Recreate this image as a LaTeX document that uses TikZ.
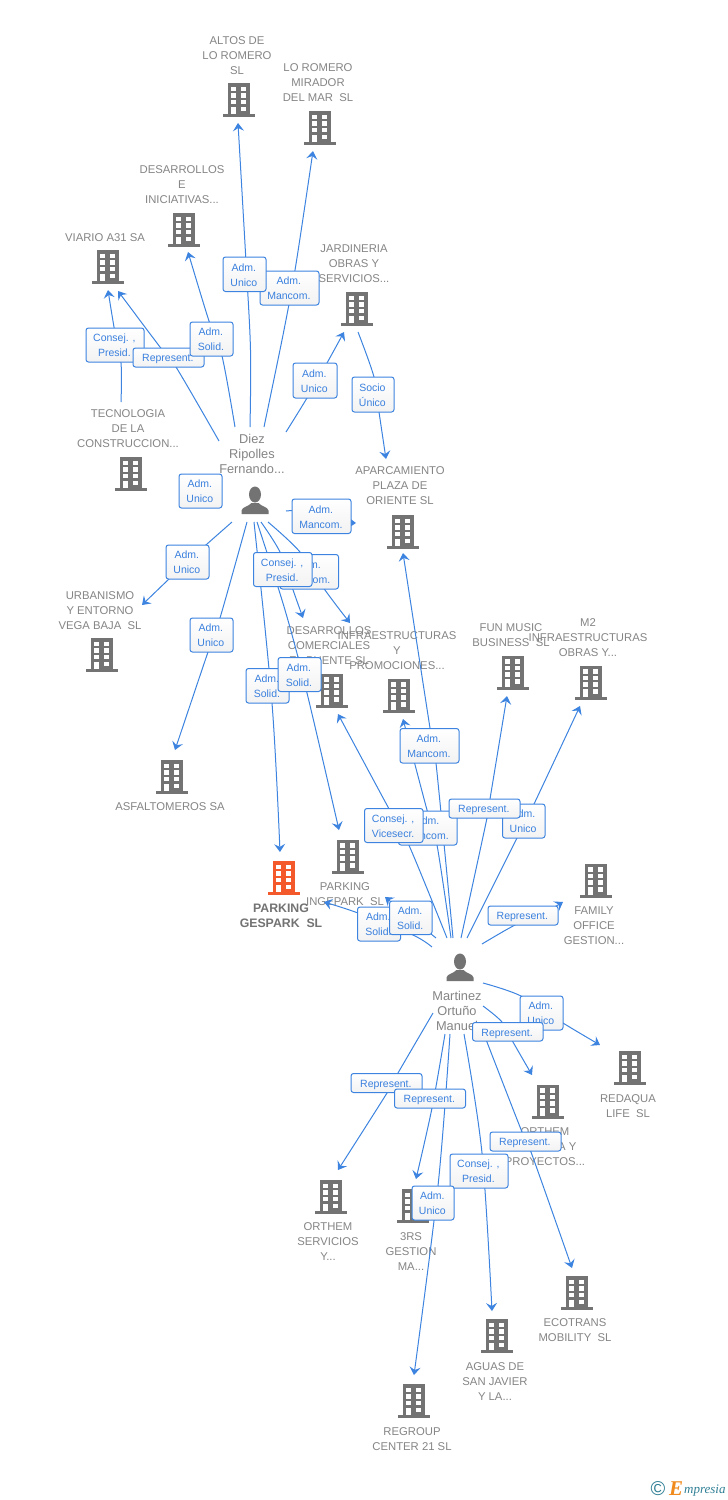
\documentclass[tikz,border=0pt]{standalone}
\usepackage{fontspec}
\setmainfont{Liberation Sans}
\newfontfamily\logofont{Liberation Serif}
\usetikzlibrary{arrows.meta}
\definecolor{linkblue}{HTML}{3D84E0}
\definecolor{labelblue}{HTML}{3A80DE}
\definecolor{icongray}{HTML}{737373}
\definecolor{textgray}{HTML}{858585}
\definecolor{mainorange}{HTML}{F4592B}
\definecolor{logoteal}{HTML}{2F7F95}
\definecolor{logoorange}{HTML}{F08A1D}
\tikzset{
  company/.style={text=textgray,inner sep=0pt,align=center,yshift=-1pt,font=\fontsize{11.3}{15}\selectfont},
  maincompany/.style={company,text=icongray,font=\bfseries\fontsize{12.3}{15}\selectfont},
  personname/.style={text=textgray,inner sep=0pt,align=center,yshift=-1pt,font=\fontsize{12.8}{15}\selectfont},
  iconbox/.style={inner sep=0pt,minimum width=32pt,minimum height=34pt},
  link/.style={draw=linkblue,line width=1pt,-{Stealth[length=8pt,width=11pt,inset=3pt]}},
  rolebox/.style={draw=linkblue,line width=1pt,rounded corners=2.5pt,top color=white,bottom color=white!95!black,
    text=labelblue,inner sep=0pt,font=\fontsize{10.5}{15}\selectfont},
}
\newcommand{\building}[4]{%
  \node[iconbox,anchor=south] (#1) at (#2,#3) {};
  \begin{scope}[shift={(#2,#3)}]
    \fill[#4] (-11,0) rectangle (11,-34);
    \fill[#4] (-16,0) rectangle (16,-2.6);
    \foreach \wy in {-30.5,-24,-17.2}{
      \fill[white] (-8,\wy) rectangle (-3,\wy+4.6);
      \fill[white] (2,\wy) rectangle (7,\wy+4.6);
    }
    \fill[white] (-8,-10.3) rectangle (-3,-2.6);
    \fill[white] (2,-10.3) rectangle (7,-5.6);
  \end{scope}}
\newcommand{\persona}[3]{%
  \node[iconbox,anchor=south,minimum width=27pt,minimum height=28pt] (#1) at (#2,#3) {};
  \begin{scope}[shift={(#2,#3)}]
    \fill[icongray] (0,-19.5) ellipse (6pt and 8pt);
    \fill[icongray] (-13.5,0) -- (-13.5,-3.5) .. controls (-13,-7) and (-6.5,-7.5) .. (-3.5,-11)
      -- (3.5,-11) .. controls (6.5,-7.5) and (13,-7) .. (13.5,-3.5) -- (13.5,0) -- cycle;
  \end{scope}}
\newcommand{\role}[6]{%
  \node[rolebox,minimum width=#4pt-#2pt,minimum height=#5pt-#3pt] (#1) at ({(#2+#4)/2},{(#3+#5)/2})
    {\hspace*{-1.2pt}\raisebox{0pt}[\dimexpr\height+2.6pt\relax][\depth]{\begin{tabular}{@{}c@{}}#6\end{tabular}}};}
\begin{document}
\begin{tikzpicture}[x=1pt,y=-1pt]
\useasboundingbox (0,0) rectangle (728,1500);
\fill[white] (0,0) rectangle (728,1500);

% buildings
\building{altos}{239}{117}{icongray}
\building{mirador}{320}{145}{icongray}
\building{iniciativas}{184}{247}{icongray}
\building{viario}{107.5}{284}{icongray}
\building{jardineria}{357}{326}{icongray}
\building{tecnologia}{131}{491}{icongray}
\building{aparcamiento}{403}{549}{icongray}
\building{urbanismo}{102}{672}{icongray}
\building{asfaltomeros}{172}{794}{icongray}
\building{comerciales}{331.5}{707.5}{icongray}
\building{promociones}{399}{712.5}{icongray}
\building{funmusic}{513}{689.5}{icongray}
\building{mdos}{591}{699.5}{icongray}
\building{gespark}{283.5}{895}{mainorange}
\building{ingepark}{347.5}{873.5}{icongray}
\building{family}{596}{897.5}{icongray}
\building{redaqua}{630}{1085}{icongray}
\building{proyectos}{547.5}{1118.5}{icongray}
\building{servicios}{331}{1214}{icongray}
\building{gestion}{413}{1223}{icongray}
\building{ecotrans}{577}{1310}{icongray}
\building{aguas}{497}{1353}{icongray}
\building{regroup}{414}{1418}{icongray}

% persons
\persona{diez}{255}{514}
\persona{martinez}{460}{981}

% names
\node[company] (altos-t) at (237,55) {ALTOS DE\\LO ROMERO\\SL};
\node[company] (mirador-t) at (318,82) {LO ROMERO\\MIRADOR\\DEL MAR\ \ SL};
\node[company] (iniciativas-t) at (182,184) {DESARROLLOS\\E\\INICIATIVAS...};
\node[company] (viario-t) at (105,237) {VIARIO A31 SA};
\node[company] (jardineria-t) at (354,263) {JARDINERIA\\OBRAS Y\\SERVICIOS...};
\node[company] (tecnologia-t) at (128,428) {TECNOLOGIA\\DE LA\\CONSTRUCCION...};
\node[company] (aparcamiento-t) at (400,485) {APARCAMIENTO\\PLAZA DE\\ORIENTE SL};
\node[company] (urbanismo-t) at (100,610) {URBANISMO\\Y ENTORNO\\VEGA BAJA\ \ SL};
\node[company] (asfaltomeros-t) at (170,806) {ASFALTOMEROS SA};
\node[company] (comerciales-t) at (329,645) {DESARROLLOS\\COMERCIALES\\EL PUENTE SL};
\node[company] (promociones-t) at (397,650) {INFRAESTRUCTURAS\\Y\\PROMOCIONES...};
\node[company] (funmusic-t) at (511,634.5) {FUN MUSIC\\BUSINESS\ \ SL};
\node[company] (mdos-t) at (588,637) {M2\\INFRAESTRUCTURAS\\OBRAS Y...};
\node[maincompany] (gespark-t) at (281,914.5) {PARKING\\GESPARK\ \ SL};
\node[company] (ingepark-t) at (345,893.5) {PARKING\\INGEPARK\ \ SL};
\node[company] (family-t) at (594,925) {FAMILY\\OFFICE\\GESTION...};
\node[company] (redaqua-t) at (628,1105.5) {REDAQUA\\LIFE\ \ SL};
\node[company] (proyectos-t1) at (545,1131) {ORTHEM};
\node[company,anchor=east] (proyectos-t2) at (576.5,1146) {A Y};
\node[company] (proyectos-t3) at (545,1161) {PROYECTOS...};
\node[company] (servicios-t) at (328,1241) {ORTHEM\\SERVICIOS\\Y...};
\node[company] (gestion-t) at (411,1251) {3RS\\GESTION\\MA...};
\node[company] (ecotrans-t) at (575,1329.5) {ECOTRANS\\MOBILITY\ \ SL};
\node[company] (aguas-t) at (495,1381) {AGUAS DE\\SAN JAVIER\\Y LA...};
\node[company] (regroup-t) at (412,1438.5) {REGROUP\\CENTER 21 SL};
\node[personname] (diez-t) at (252,453) {Diez\\Ripolles\\Fernando...};
\node[personname] (martinez-t) at (457,1010) {Martinez\\Ortuño\\Manuel};

% free ends of the connectors
\coordinate (dAltos) at (250,427);     \coordinate (altosIn) at (238,123);
\coordinate (dMirador) at (264,427);   \coordinate (miradorIn) at (313,151);
\coordinate (dInic) at (235,427);      \coordinate (inicIn) at (188,252);
\coordinate (dViario) at (219,441);    \coordinate (viarioInA) at (118,291);
\coordinate (tecOut) at (121,402);     \coordinate (viarioInB) at (108,290);
\coordinate (dJard) at (286,432);      \coordinate (jardIn) at (344,332);
\coordinate (jardOut) at (358,332);    \coordinate (aparcInA) at (386,459);
\coordinate (dUrb) at (232,522);       \coordinate (urbIn) at (142,605);
\coordinate (dAsf) at (247,522);       \coordinate (asfIn) at (175,750);
\coordinate (dAparc) at (286,511);     \coordinate (aparcInB) at (356,523);
\coordinate (dGes) at (254,522);       \coordinate (gesInA) at (280,852);
\coordinate (dInge) at (257,522);      \coordinate (ingeInA) at (339,830);
\coordinate (dCom) at (261,522);       \coordinate (comInA) at (303,618);
\coordinate (dProm) at (268,522);      \coordinate (promInA) at (350,623);
\coordinate (mAparc) at (453,938);     \coordinate (aparcInC) at (403,553);
\coordinate (mProm) at (451,938);      \coordinate (promInB) at (403,719);
\coordinate (mCom) at (447,938);       \coordinate (comInB) at (338,714);
\coordinate (mFun) at (461,938);       \coordinate (funIn) at (507,696);
\coordinate (mMdos) at (467,938);      \coordinate (mdosIn) at (580,706);
\coordinate (mFam) at (482,944);       \coordinate (famIn) at (563,902);
\coordinate (mInge) at (436,938);      \coordinate (ingeInB) at (385,897);
\coordinate (mGes) at (432,947);       \coordinate (gesInB) at (324,902);
\coordinate (mRed) at (483,983);       \coordinate (redIn) at (600,1045);
\coordinate (mProy) at (483,1006);     \coordinate (proyIn) at (532,1075);
\coordinate (mEco) at (480,1024);      \coordinate (ecoIn) at (572,1268);
\coordinate (mAguas) at (464,1034);    \coordinate (aguasIn) at (492,1311);
\coordinate (mReg) at (450,1034);      \coordinate (regIn) at (414,1375);
\coordinate (mGest) at (445,1034);     \coordinate (gestIn) at (416,1179);
\coordinate (mServ) at (433,1013);     \coordinate (servIn) at (338,1170);

% connectors
\draw[link] plot[smooth,tension=.55] coordinates {(dAltos) (250.5,350) (246,262) (altosIn)};
\draw[link] plot[smooth,tension=.55] coordinates {(dMirador) (284,330) (296,264) (miradorIn)};
\draw[link] plot[smooth,tension=.55] coordinates {(dInic) (222,356) (209,321) (inicIn)};
\draw[link] plot[smooth,tension=.55] coordinates {(dViario) (176,367) (160,347) (viarioInA)};
\draw[link] plot[smooth,tension=.55] coordinates {(tecOut) (121,363) (114,327) (viarioInB)};
\draw[link] plot[smooth,tension=.55] coordinates {(dJard) (307,398) (327,363) (jardIn)};
\draw[link] plot[smooth,tension=.55] coordinates {(jardOut) (374,377) (379,412) (aparcInA)};
\draw[link] plot[smooth,tension=.55] coordinates {(dUrb) (187,562) (urbIn)};
\draw[link] plot[smooth,tension=.55] coordinates {(dAsf) (220,618) (208,652) (asfIn)};
\draw[link] plot[smooth,tension=.55] coordinates {(dAparc) (300,511.5) (340,521) (aparcInB)};
\draw[link] plot[smooth,tension=.55] coordinates {(dGes) (272,703) (gesInA)};
\draw[link] plot[smooth,tension=.55] coordinates {(dInge) (285,610) (307,693) (ingeInA)};
\draw[link] plot[smooth,tension=.55] coordinates {(dCom) (280,552) (292,587) (comInA)};
\draw[link] plot[smooth,tension=.55] coordinates {(dProm) (300,552) (325,590) (promInA)};
\draw[link] plot[smooth,tension=.55] coordinates {(mAparc) (436,763) (430,728) (aparcInC)};
\draw[link] plot[smooth,tension=.55] coordinates {(mProm) (437,845) (427,810) (promInB)};
\draw[link] plot[smooth,tension=.55] coordinates {(mCom) (408,843) (388,807) (comInB)};
\draw[link] plot[smooth,tension=.55] coordinates {(mFun) (487,818) (490,799) (funIn)};
\draw[link] plot[smooth,tension=.55] coordinates {(mMdos) (517,838) (534,804) (mdosIn)};
\draw[link] plot[smooth,tension=.55] coordinates {(mFam) (515,925) (545,912) (famIn)};
\draw[link] plot[smooth,tension=.55] coordinates {(mInge) (420,925) (ingeInB)};
\draw[link] plot[smooth,tension=.55] coordinates {(mGes) (413,935) (358,913) (gesInB)};
\draw[link] plot[smooth,tension=.55] coordinates {(mRed) (521,996) (563,1023) (redIn)};
\draw[link] plot[smooth,tension=.55] coordinates {(mProy) (502,1022) (513,1042) (proyIn)};
\draw[link] plot[smooth,tension=.55] coordinates {(mEco) (522,1132) (531,1152) (ecoIn)};
\draw[link] plot[smooth,tension=.55] coordinates {(mAguas) (482,1153) (aguasIn)};
\draw[link] plot[smooth,tension=.55] coordinates {(mReg) (438,1186) (regIn)};
\draw[link] plot[smooth,tension=.55] coordinates {(mGest) (432,1108) (gestIn)};
\draw[link] plot[smooth,tension=.55] coordinates {(mServ) (398,1073) (387,1093) (servIn)};

% role labels, back to front
\role{r1}{260}{271}{319}{305}{Adm.\\Mancom.}
\role{r2}{223}{257}{266}{291.5}{Adm.\\Unico}
\role{r3}{86}{328}{144}{362}{Consej. ,\\Presid.}
\role{r4}{133}{348}{204}{367}{Represent.}
\role{r5}{190}{322}{233}{356}{Adm.\\Solid.}
\role{r6}{293}{363}{337}{398}{Adm.\\Unico}
\role{r7}{352}{377}{394}{412}{Socio\\Único}
\role{r8}{179}{474}{222}{508}{Adm.\\Unico}
\role{r9}{292}{499}{351}{533.5}{Adm.\\Mancom.}
\role{r10}{166}{545}{209}{579}{Adm.\\Unico}
\role{r11}{280}{554.5}{338.5}{589}{Adm.\\Mancom.}
\role{r12}{253.5}{552.5}{312}{586.5}{Consej. ,\\Presid.}
\role{r13}{190}{618}{233}{652}{Adm.\\Unico}
\role{r14}{246}{668.5}{289}{703}{Adm.\\Solid.}
\role{r15}{278}{657.5}{321}{691.5}{Adm.\\Solid.}
\role{r16}{400}{728.5}{459}{763}{Adm.\\Mancom.}
\role{r17}{398.5}{811}{457}{845}{Adm.\\Mancom.}
\role{r18}{364.5}{808.5}{423}{842.5}{Consej. ,\\Vicesecr.}
\role{r19}{502.5}{804}{545}{838}{Adm.\\Unico}
\role{r20}{449}{799}{520}{818}{Represent.}
\role{r21}{357.5}{907}{400.5}{941}{Adm.\\Solid.}
\role{r22}{389.5}{901}{432}{934.5}{Adm.\\Solid.}
\role{r23}{488}{906}{558}{925}{Represent.}
\role{r24}{520}{996}{563}{1030}{Adm.\\Unico}
\role{r25}{472.5}{1022.5}{543}{1041}{Represent.}
\role{r26}{351}{1073.5}{422}{1092.5}{Represent.}
\role{r27}{394.5}{1089}{465.5}{1108}{Represent.}
\role{r28}{490}{1132}{561}{1151}{Represent.}
\role{r29}{450}{1154}{508}{1188}{Consej. ,\\Presid.}
\role{r30}{412}{1186}{454}{1220}{Adm.\\Unico}

% footer mark
\node[inner sep=0pt,text=logoteal,font=\fontsize{20}{20}\selectfont] (copy) at (658,1489) {©};
\node[inner sep=0pt,anchor=base west,text=logoorange,font=\logofont\itshape\bfseries\fontsize{21}{21}\selectfont] (logoE) at (669,1495) {E};
\node[inner sep=0pt,anchor=base west,text=logoteal,font=\logofont\itshape\fontsize{13}{13}\selectfont] (logoT) at (684,1493) {mpresia};
\end{tikzpicture}
\end{document}
